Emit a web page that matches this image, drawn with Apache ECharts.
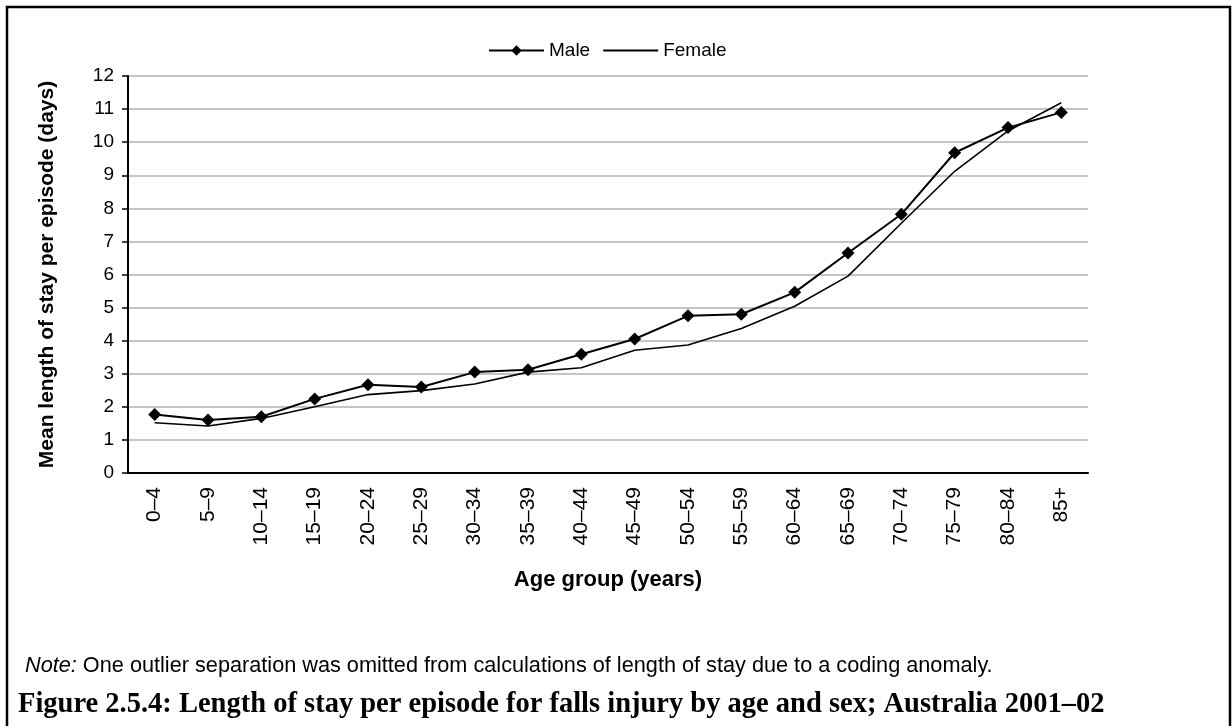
<!DOCTYPE html>
<html>
<head>
<meta charset="utf-8">
<script src="https://cdn.jsdelivr.net/npm/echarts@6/dist/echarts.min.js"></script>
<style>
  html, body { margin: 0; padding: 0; background: #fff; }
  #lengthOfStayChart { width: 1232px; height: 726px; }
</style>
</head>
<body>
<div id="lengthOfStayChart"></div>
<script>
const ageGroups = ['0–4', '5–9', '10–14', '15–19', '20–24', '25–29', '30–34', '35–39', '40–44',
  '45–49', '50–54', '55–59', '60–64', '65–69', '70–74', '75–79', '80–84', '85+']
const male = [1.77, 1.6, 1.7, 2.24, 2.67, 2.6, 3.05, 3.12, 3.59, 4.05, 4.75, 4.8, 5.46, 6.65, 7.82, 9.68, 10.44, 10.9]
const female = [1.52, 1.42, 1.65, 2.0, 2.37, 2.49, 2.69, 3.05, 3.18, 3.71, 3.87, 4.37, 5.04, 5.95, 7.55, 9.12, 10.34, 11.19]
const yTicks = { min: 0, max: 12, interval: 1 }

const FONT = 'Liberation Sans, Arial, sans-serif'

const echartInit = () => {
  let myChart = echarts.init(document.getElementById('lengthOfStayChart'))
  let option = {
    animation: false,
    legend: {
      data: ['Male', { name: 'Female', itemStyle: { opacity: 0 } }],
      top: 36,
      left: 483,
      itemWidth: 55,
      itemHeight: 13,
      itemGap: 12,
      textStyle: { fontFamily: FONT, fontSize: 19, color: '#000' },
    },
    grid: {
      left: 128,
      right: 144,
      top: 76,
      bottom: 253,
      containLabel: false,
    },
    xAxis: {
      type: 'category',
      data: ageGroups,
      boundaryGap: true,
      name: 'Age group (years)',
      nameLocation: 'middle',
      nameGap: 96,
      nameTextStyle: { fontFamily: FONT, fontSize: 22, fontWeight: 'bold', color: '#000' },
      axisLine: { lineStyle: { color: '#000', width: 2 } },
      axisTick: { length: 6, lineStyle: { color: '#000', width: 1.5 } },
      axisLabel: { rotate: 90, margin: 14, fontFamily: FONT, fontSize: 21, color: '#000', interval: 0 },
      splitLine: { show: false },
    },
    yAxis: {
      type: 'value',
      min: yTicks.min,
      max: yTicks.max,
      interval: yTicks.interval,
      name: 'Mean length of stay per episode (days)',
      nameLocation: 'middle',
      nameGap: 70,
      nameTextStyle: { fontFamily: FONT, fontSize: 21, fontWeight: 'bold', color: '#000' },
      axisLine: { show: true, lineStyle: { color: '#000', width: 2 } },
      axisTick: { show: true, length: 6, lineStyle: { color: '#000', width: 1.5 } },
      axisLabel: { margin: 14, fontFamily: FONT, fontSize: 19, color: '#000' },
      splitLine: { lineStyle: { color: '#c4c4c4', width: 2 } },
    },
    series: [
      {
        name: 'Male',
        type: 'line',
        data: male,
        symbol: 'diamond',
        symbolSize: 13,
        itemStyle: { color: '#000' },
        lineStyle: { color: '#000', width: 2 },
        z: 3,
      },
      {
        name: 'Female',
        type: 'line',
        data: female,
        symbol: 'none',
        itemStyle: { color: '#000' },
        lineStyle: { color: '#000', width: 1.6 },
        z: 2,
      },
    ],
    graphic: [
      // figure frame (left, top, right)
      {
        type: 'polyline',
        shape: { points: [[7, 726], [7, 7], [1230, 7], [1230, 726]] },
        style: { stroke: '#000', lineWidth: 2.5, fill: null },
      },
      {
        type: 'text',
        left: 25,
        top: 655,
        style: {
          text: '{i|Note:} One outlier separation was omitted from calculations of length of stay due to a coding anomaly.',
          rich: {
            i: { fontStyle: 'italic', fontFamily: FONT, fontSize: 21.7, fill: '#000' },
          },
          fontFamily: FONT,
          fontSize: 21.7,
          fill: '#000',
        },
      },
      {
        type: 'text',
        left: 18,
        top: 690,
        style: {
          text: 'Figure 2.5.4: Length of stay per episode for falls injury by age and sex; Australia 2001–02',
          fontFamily: 'Liberation Serif, Times New Roman, serif',
          fontWeight: 'bold',
          fontSize: 28.5,
          fill: '#000',
        },
      },
    ],
  }
  myChart.setOption(option)
}

echartInit()
</script>
</body>
</html>
